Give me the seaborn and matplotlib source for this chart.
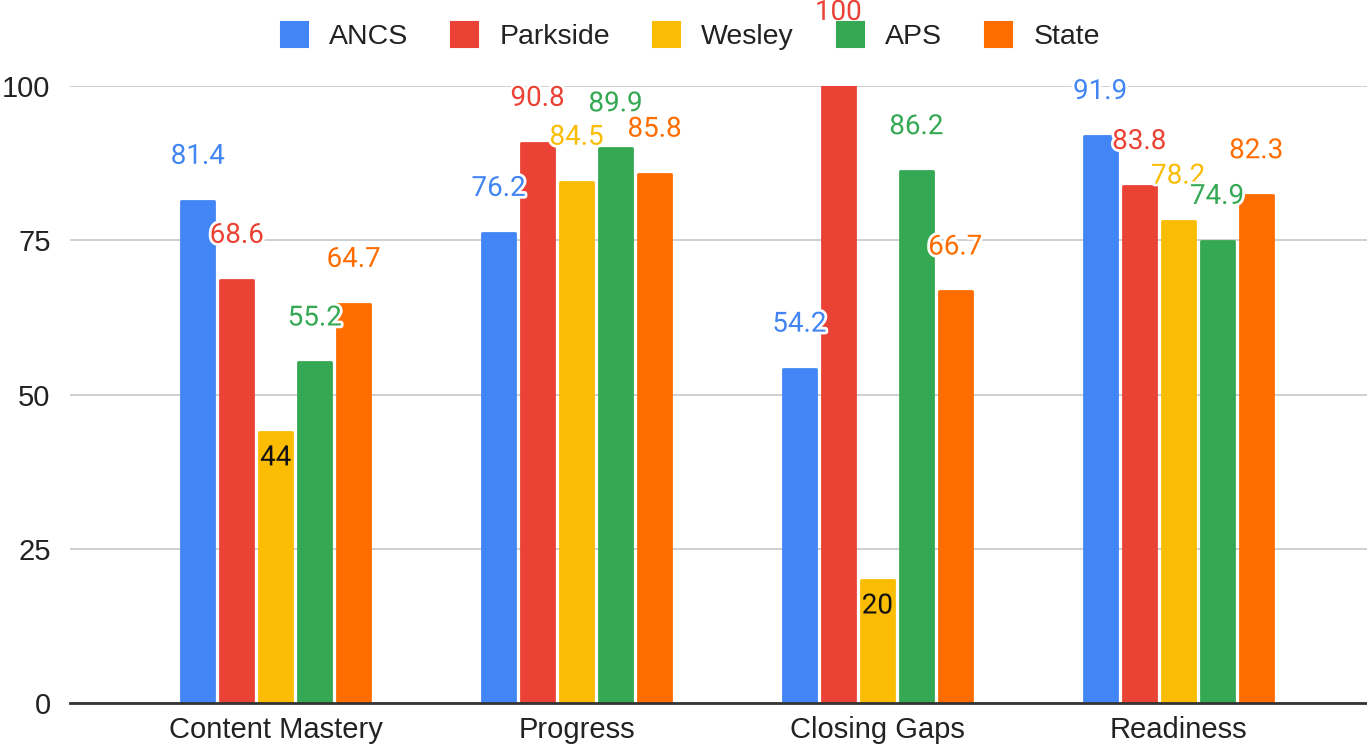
import matplotlib
matplotlib.use('Agg')
import matplotlib.pyplot as plt
import matplotlib.patheffects as pe
from matplotlib.patches import Patch
import pandas as pd
import seaborn as sns

categories = ['Content Mastery', 'Progress', 'Closing Gaps', 'Readiness']
schools = ['ANCS', 'Parkside', 'Wesley', 'APS', 'State']
ancs = [81.4, 76.2, 54.2, 91.9]
parkside = [68.6, 90.8, 100, 83.8]
wesley = [44, 84.5, 20, 78.2]
aps = [55.2, 89.9, 86.2, 74.9]
state = [64.7, 85.8, 66.7, 82.3]
colors = ['#4285F4', '#EA4335', '#FBBC04', '#34A853', '#FF6D01']

series = [ancs, parkside, wesley, aps, state]
rows = []
for school, vals in zip(schools, series):
    for cat, v in zip(categories, vals):
        rows.append({'metric': cat, 'school': school, 'value': v})
df = pd.DataFrame(rows)

sns.set_style('white')
plt.rcParams['font.family'] = ['Liberation Sans', 'DejaVu Sans']

fig = plt.figure(figsize=(13.67, 7.47), dpi=100)
ax = fig.add_axes([70 / 1367, 1 - 703 / 747, 1 - 70 / 1367, (703 - 86) / 747])

sns.barplot(data=df, x='metric', y='value', hue='school', palette=colors,
            width=0.648, gap=0.15, ax=ax, legend=False, saturation=1)

# slightly rounded bar corners
for bar in ax.patches:
    bar.set_edgecolor(bar.get_facecolor())
    bar.set_linewidth(2)
    bar.set_joinstyle('round')

ax.set_ylim(0, 100)
ax.set_xlim(-0.684, 3.628)
ax.set_yticks([0, 25, 50, 75, 100])
ax.yaxis.grid(True, color='#cccccc', linewidth=1.3)
ax.set_axisbelow(True)
for s in ['top', 'right', 'left']:
    ax.spines[s].set_visible(False)
ax.spines['bottom'].set_color('#333333')
ax.spines['bottom'].set_linewidth(2)
ax.spines['bottom'].set_zorder(5)
ax.tick_params(axis='both', length=0, labelsize=21, colors='#222222')
ax.tick_params(axis='y', pad=14)
ax.tick_params(axis='x', pad=9)
ax.set_xlabel('')
ax.set_ylabel('')

# value labels
for cont, col in zip(ax.containers, colors):
    for bar in cont:
        v = bar.get_height()
        x = bar.get_x() + bar.get_width() / 2
        txt = f'{v:g}'
        if v < 50:
            ax.annotate(txt, (x, v), xytext=(0, -19), textcoords='offset points',
                        ha='center', va='center', fontsize=20, color='#111111',
                        family=['Roboto', 'DejaVu Sans'],
                        path_effects=[pe.withStroke(linewidth=3, foreground=col)])
        else:
            off = 53 if v >= 100 else 32
            ax.annotate(txt, (x, v), xytext=(0, off), textcoords='offset points',
                        ha='center', va='center', fontsize=20, color=col,
                        family=['Roboto', 'DejaVu Sans'], annotation_clip=False,
                        path_effects=[pe.withStroke(linewidth=4, foreground='white')])

handles = [Patch(facecolor=c, edgecolor=c, joinstyle='round', linewidth=1.5) for c in colors]
leg = fig.legend(handles, schools, loc='upper center', bbox_to_anchor=(0.505, 1.005),
                 ncol=5, frameon=False, fontsize=20.5, handlelength=0.95, handleheight=1.0,
                 handletextpad=0.75, columnspacing=1.5)
for t in leg.get_texts():
    t.set_color('#222222')
leg.set_zorder(10)

fig.savefig('out.png', dpi=100)
